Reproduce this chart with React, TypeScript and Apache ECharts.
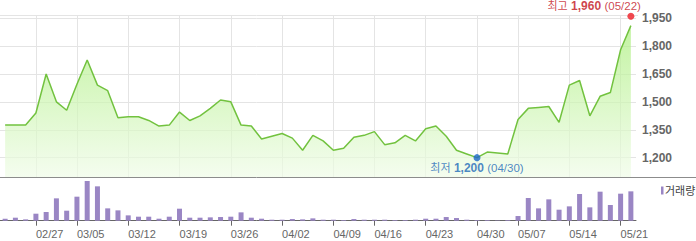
import React, { useEffect, useRef } from "react";
import * as echarts from "echarts";

const dates = [
  "02/22", "02/23", "02/26", "02/27", "02/28", "03/01", "03/02", "03/05", "03/06", "03/07",
  "03/08", "03/09", "03/12", "03/13", "03/14", "03/15", "03/16", "03/19", "03/20", "03/21",
  "03/22", "03/23", "03/26", "03/27", "03/28", "03/29", "03/30", "04/02", "04/03", "04/04",
  "04/05", "04/06", "04/09", "04/10", "04/11", "04/12", "04/16", "04/17", "04/18", "04/19",
  "04/20", "04/23", "04/24", "04/25", "04/26", "04/27", "04/30", "05/02", "05/03", "05/04",
  "05/07", "05/08", "05/09", "05/10", "05/11", "05/14", "05/15", "05/16", "05/17", "05/18",
  "05/21", "05/22",
];

const closePrices = [
  1375, 1375, 1375, 1440, 1650, 1500, 1455, 1595, 1725, 1590,
  1560, 1415, 1420, 1420, 1400, 1370, 1375, 1445, 1400, 1425,
  1465, 1510, 1500, 1375, 1370, 1300, 1315, 1330, 1305, 1240,
  1320, 1290, 1240, 1250, 1310, 1320, 1340, 1270, 1280, 1320,
  1290, 1355, 1370, 1315, 1240, 1220, 1200, 1230, 1225, 1220,
  1405, 1465, 1470, 1475, 1390, 1590, 1615, 1425, 1530, 1550,
  1780, 1910,
];

// trading volume (thousand shares)
const volumes = [
  6, 9, 4, 21, 26, 67, 30, 72, 119, 103,
  37, 31, 16, 12, 12, 6, 12, 36, 9, 9,
  10, 11, 12, 25, 9, 6, 3, 3, 5, 4,
  7, 3, 3, 2, 5, 3, 3, 3, 2, 2,
  3, 6, 6, 11, 8, 3, 2, 2, 1, 2,
  14, 68, 37, 64, 33, 43, 80, 40, 87, 47,
  81, 88,
];

const labelDates = [
  "02/27", "03/05", "03/12", "03/19", "03/26", "04/02", "04/09",
  "04/16", "04/23", "04/30", "05/07", "05/14", "05/21",
];

const priceTicks = [1200, 1350, 1500, 1650, 1800, 1950];

const highPoint = { date: "05/22", value: 1960 };
const lowPoint = { date: "04/30", value: 1200 };

const FONT = '"Liberation Sans", Arial, "Noto Sans CJK KR", sans-serif';

const fmt = (v: number) => v.toLocaleString("en-US");
const showAt = (_i: number, v: string) => labelDates.includes(v);

export default function App() {
  const ref = useRef<HTMLDivElement>(null);

  useEffect(() => {
    if (!ref.current) return;
    const chart = echarts.init(ref.current, undefined, { renderer: "svg" });

    const option: any = {
      animation: false,
      backgroundColor: "#ffffff",
      textStyle: { fontFamily: FONT },
      grid: [
        { left: -1, right: 60, top: 15, bottom: 64 },
        { left: -1, right: 60, top: 177, bottom: 20.3 },
      ],
      xAxis: [
        {
          type: "category",
          gridIndex: 0,
          data: dates,
          boundaryGap: true,
          axisLine: { show: false },
          axisTick: { show: false, alignWithLabel: true, interval: showAt },
          axisLabel: { show: false, interval: showAt },
          splitLine: {
            show: true,
            alignWithLabel: true,
            interval: showAt,
            lineStyle: { color: "#e4e4e4", width: 1 },
          },
        },
        {
          type: "category",
          gridIndex: 1,
          data: dates,
          boundaryGap: true,
          axisLine: { show: true, lineStyle: { color: "#666666", width: 1 } },
          axisTick: {
            show: true,
            alignWithLabel: true,
            interval: showAt,
            length: 5,
            lineStyle: { color: "#666666" },
          },
          axisLabel: {
            interval: showAt,
            align: "left",
            margin: 8,
            fontSize: 11,
            color: "#666666",
            fontFamily: FONT,
          },
          splitLine: { show: false },
        },
      ],
      yAxis: [
        {
          type: "value",
          gridIndex: 0,
          position: "right",
          min: 1096,
          max: 1967,
          axisLine: { show: false },
          axisTick: { show: false, customValues: priceTicks },
          axisLabel: {
            customValues: priceTicks,
            formatter: (v: number) => fmt(v),
            margin: 6,
            color: "#666666",
            fontWeight: "bold",
            fontSize: 12,
            fontFamily: FONT,
          },
          splitLine: { show: true, lineStyle: { color: "#e4e4e4", width: 1 } },
        },
        {
          type: "value",
          gridIndex: 1,
          min: 0,
          max: 131,
          axisLine: { show: false },
          axisTick: { show: false },
          axisLabel: { show: false },
          splitLine: { show: false },
        },
      ],
      series: [
        {
          type: "line",
          xAxisIndex: 0,
          yAxisIndex: 0,
          data: closePrices,
          symbol: "none",
          lineStyle: { color: "#72c23f", width: 1.5 },
          areaStyle: {
            origin: "start",
            color: new echarts.graphic.LinearGradient(0, 0, 0, 1, [
              { offset: 0, color: "#a9ee7a" },
              { offset: 1, color: "#f0fce8" },
            ]),
          },
          z: 2,
        },
        {
          type: "bar",
          name: "거래량",
          xAxisIndex: 1,
          yAxisIndex: 1,
          data: volumes,
          barWidth: 5,
          itemStyle: { color: "#9a86c4" },
        },
        {
          type: "scatter",
          xAxisIndex: 0,
          yAxisIndex: 0,
          symbolSize: 7,
          z: 5,
          data: [
            {
              value: [highPoint.date, highPoint.value],
              itemStyle: { color: "#ee1c24" },
              label: {
                show: true,
                position: "top",
                distance: 1,
                align: "right",
                offset: [10, 0],
                formatter: `{a|최고} {b|${fmt(highPoint.value)}} {c|(${highPoint.date})}`,
                rich: {
                  a: { fontSize: 11, color: "#c2121b", fontFamily: FONT },
                  b: { fontSize: 12, fontWeight: "bold", color: "#c2121b", fontFamily: FONT },
                  c: { fontSize: 11.5, color: "#c2121b", fontFamily: FONT },
                },
              },
            },
            {
              value: [lowPoint.date, lowPoint.value],
              itemStyle: { color: "#1a66c8" },
              label: {
                show: true,
                position: "bottom",
                distance: 1,
                align: "center",
                formatter: `{a|최저} {b|${fmt(lowPoint.value)}} {c|(${lowPoint.date})}`,
                rich: {
                  a: { fontSize: 11, color: "#1c6ab8", fontFamily: FONT },
                  b: { fontSize: 12, fontWeight: "bold", color: "#1c6ab8", fontFamily: FONT },
                  c: { fontSize: 11.5, color: "#1c6ab8", fontFamily: FONT },
                },
              },
            },
          ],
        },
      ],
      graphic: [
        {
          type: "line",
          shape: { x1: 0, y1: 15.5, x2: 638, y2: 15.5 },
          style: { stroke: "#e4e4e4", lineWidth: 1 },
          silent: true,
        },
        {
          type: "line",
          shape: { x1: 0, y1: 177.5, x2: 696, y2: 177.5 },
          style: { stroke: "#8c8c8c", lineWidth: 1 },
          silent: true,
          z: 10,
        },
        {
          type: "rect",
          shape: { x: 661, y: 186.5, width: 2.5, height: 8 },
          style: { fill: "#9a86c4" },
          silent: true,
        },
        {
          type: "text",
          x: 665,
          y: 191,
          style: {
            text: "거래량",
            fontSize: 11,
            fill: "#444444",
            fontFamily: FONT,
            verticalAlign: "middle",
          },
          silent: true,
        },
      ],
    };

    chart.setOption(option);
    return () => chart.dispose();
  }, []);

  return (
    <div
      ref={ref}
      style={{ position: "absolute", left: 0, top: 0, width: 696, height: 241 }}
    />
  );
}
